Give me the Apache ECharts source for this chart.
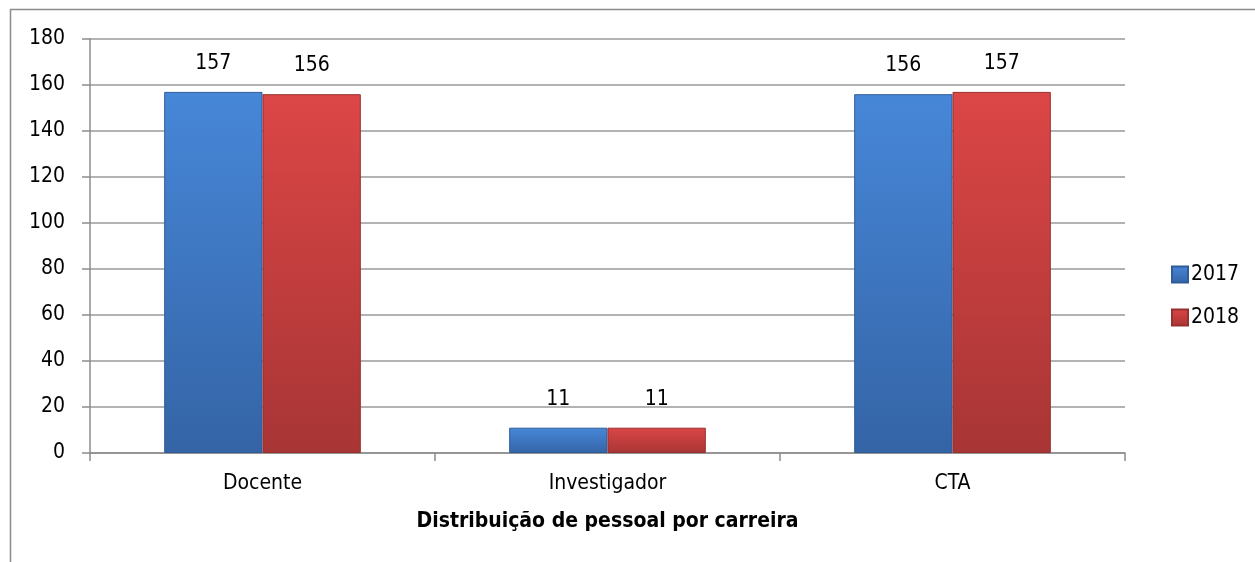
<!DOCTYPE html>
<html><head><meta charset="utf-8">
<script src="https://cdn.jsdelivr.net/npm/echarts@6/dist/echarts.min.js"></script>
<style>html,body{margin:0;padding:0;background:#fff}#c{width:1255px;height:562px}</style>
</head><body><div id="c"></div>
<script>
const categories = ['Docente', 'Investigador', 'CTA'];
const seriesNames = ['2017', '2018'];
const values2017 = [157, 11, 156];
const values2018 = [156, 11, 157];
const yTicks = [0, 20, 40, 60, 80, 100, 120, 140, 160, 180];
const axisTitle = 'Distribuição de pessoal por carreira';

const FONT = '"Liberation Sans Narrow","DejaVu Sans Condensed","Liberation Sans",sans-serif';
function grad(top, bottom) {
  return new echarts.graphic.LinearGradient(0, 0, 0, 1, [
    {offset: 0, color: top}, {offset: 1, color: bottom}
  ]);
}
const chart = echarts.init(document.getElementById('c'));
chart.setOption({
  animation: false,
  backgroundColor: '#fff',
  graphic: [{
    type: 'rect', shape: {x: 10.5, y: 9.5, width: 1300, height: 600},
    style: {fill: 'none', stroke: '#8c8c8c', lineWidth: 1.5}, silent: true, z: -10
  }],
  grid: {left: 90, right: 130, top: 39, bottom: 109},
  legend: {
    orient: 'vertical', left: 1166, top: 259, itemGap: 22,
    itemWidth: 16, itemHeight: 16, icon: 'rect',
    textStyle: {fontFamily: FONT, fontSize: 21, color: '#000', padding: [0, 0, 0, -2]},
    data: seriesNames
  },
  xAxis: {
    type: 'category', data: categories,
    axisLine: {lineStyle: {color: '#8c8c8c', width: 1.5}},
    axisTick: {show: true, length: 8, lineStyle: {color: '#8c8c8c', width: 1.5}},
    axisLabel: {fontFamily: FONT, fontSize: 21, color: '#000', margin: 20},
    name: axisTitle, nameLocation: 'middle', nameGap: 58,
    nameTextStyle: {fontFamily: FONT, fontSize: 21, fontWeight: 'bold', color: '#000'}
  },
  yAxis: {
    type: 'value', min: yTicks[0], max: yTicks[yTicks.length - 1], interval: 20,
    axisLine: {show: true, lineStyle: {color: '#8c8c8c', width: 1.5}},
    axisTick: {show: true, length: 8, lineStyle: {color: '#8c8c8c', width: 1.5}},
    axisLabel: {fontFamily: FONT, fontSize: 21, color: '#000', margin: 25},
    splitLine: {lineStyle: {color: '#9a9a9a', width: 1.5}}
  },
  series: [{
    name: seriesNames[0], type: 'bar', data: values2017,
    barGap: '0%', barCategoryGap: '43%',
    itemStyle: {color: grad('#4787d8', '#3464a6'), borderColor: '#2f5c98', borderWidth: 1},
    label: {show: true, position: 'top', distance: 18, fontFamily: FONT, fontSize: 21, color: '#000'}
  }, {
    name: seriesNames[1], type: 'bar', data: values2018,
    itemStyle: {color: grad('#dc4646', '#a83535'), borderColor: '#983030', borderWidth: 1},
    label: {show: true, position: 'top', distance: 18, fontFamily: FONT, fontSize: 21, color: '#000'}
  }]
});
</script></body></html>
